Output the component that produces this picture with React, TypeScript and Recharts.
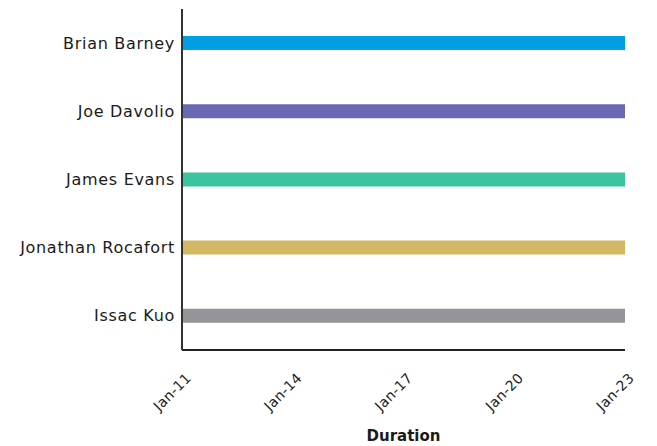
import React, { useEffect } from "react";
import { Bar, BarChart, Cell, XAxis, YAxis } from "recharts";

const people = ["Brian Barney", "Joe Davolio", "James Evans", "Jonathan Rocafort", "Issac Kuo"];
const startDay = [11, 11, 11, 11, 11];
const endDay = [23, 23, 23, 23, 23];
const dayTicks = [11, 14, 17, 20, 23];
const barColors = ["#009fe3", "#6a68b3", "#3cc3a0", "#d3b863", "#939598"];

const rows = people.map((name, i) => ({ name, start: startDay[i], end: endDay[i] }));

const FONT = "'DejaVu Sans', Verdana, sans-serif";

function DayTick(props: any) {
  const { x, y, payload } = props;
  return (
    <g transform={`translate(${x + 10},${y + 21})`}>
      <text
        transform="rotate(-45)"
        textAnchor="end"
        fontSize={14}
        letterSpacing={0.3}
        fontFamily={FONT}
        fill="#222"
      >
        {`Jan-${payload.value}`}
      </text>
    </g>
  );
}

function NameTick(props: any) {
  const { x, y, payload } = props;
  return (
    <text
      x={x + 1}
      y={y}
      dy={5.5}
      textAnchor="end"
      fontSize={16}
      letterSpacing={0.7}
      fontFamily={FONT}
      fill="#1a1a1a"
    >
      {payload.value}
    </text>
  );
}

export default function App() {
  useEffect(() => {
    document.body.style.margin = "0";
  }, []);

  return (
    <div style={{ width: 657, height: 446, background: "#fff" }}>
      <BarChart
        width={657}
        height={446}
        data={rows}
        layout="vertical"
        margin={{ top: 9, right: 32, bottom: 0, left: 0 }}
        barCategoryGap={27}
      >
        <XAxis
          type="number"
          domain={[11, 23]}
          ticks={dayTicks}
          tickLine={false}
          axisLine={{ stroke: "#222", strokeWidth: 2 }}
          tick={<DayTick />}
          height={96}
          interval={0}
          label={{
            value: "Duration",
            position: "insideBottom",
            offset: 5,
            fontSize: 15,
            fontWeight: "bold",
            fontFamily: FONT,
            fill: "#1a1a1a",
          }}
        />
        <YAxis
          type="category"
          dataKey="name"
          width={182}
          tickLine={false}
          axisLine={{ stroke: "#333", strokeWidth: 2 }}
          tick={<NameTick />}
          interval={0}
        />
        <Bar dataKey={(d: any) => [d.start, d.end]} barSize={14} isAnimationActive={false}>
          {rows.map((r, i) => (
            <Cell key={r.name} fill={barColors[i]} />
          ))}
        </Bar>
      </BarChart>
    </div>
  );
}
